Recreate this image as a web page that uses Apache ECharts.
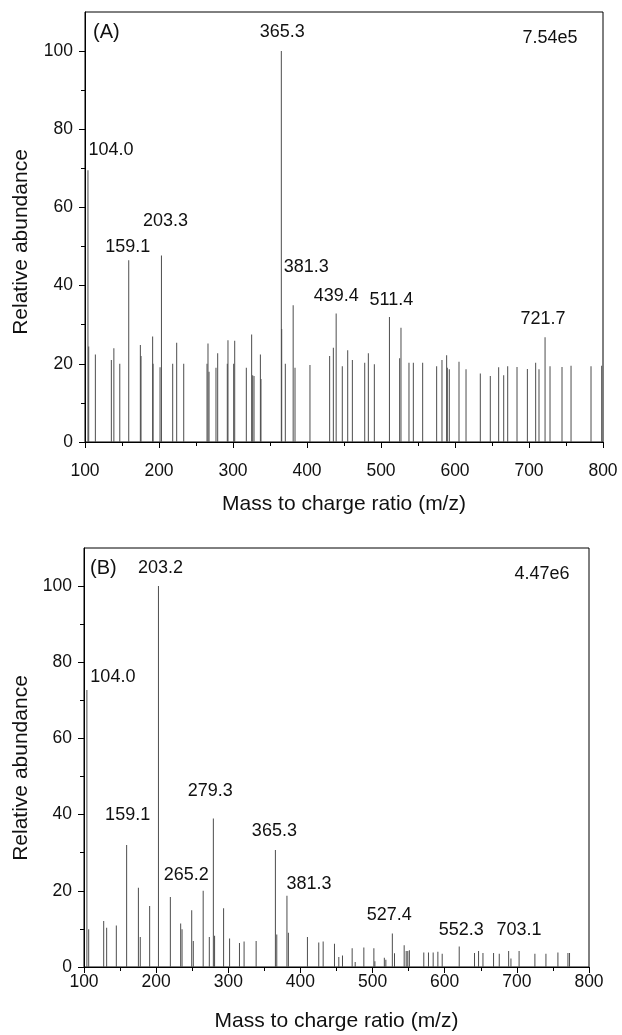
<!DOCTYPE html>
<html><head><meta charset="utf-8">
<script src="https://cdn.jsdelivr.net/npm/echarts@6/dist/echarts.min.js"></script>
<style>html,body{margin:0;padding:0;background:#fff}#c{width:622px;height:1035px}</style>
</head><body><div id="c"></div>
<script>
// ---------- DATA ----------
const xTicks = [100, 200, 300, 400, 500, 600, 700, 800];
const yTicks = [0, 20, 40, 60, 80, 100];

// Panel A (total ion abundance 7.54e5)
const mzA = [104.0,105.0,114.0,135.6,139.0,147.0,159.1,174.8,175.7,191.4,192.0,201.4,203.3,218.5,223.9,233.4,
  264.9,266.2,267.6,277.0,279.3,292.3,293.2,300.9,302.3,318.0,325.2,326.6,328.4,337.0,337.8,
  365.3,365.8,370.7,381.3,383.8,404.0,430.6,435.6,439.4,447.7,455.0,461.3,478.0,482.9,491.0,
  511.4,525.2,527.0,537.8,543.7,556.3,575.2,582.4,588.7,589.6,592.3,605.4,614.9,634.2,647.7,
  659.0,665.8,671.2,683.8,697.8,709.0,713.5,721.7,728.4,744.6,756.8,783.8,798.2];
const intA = [69.5,24.4,22.4,21.0,24.0,20.0,46.5,24.8,22.0,27.0,20.0,19.1,47.7,20.0,25.4,20.0,
  20.0,25.2,18.0,19.0,22.7,20.0,26.0,20.0,25.9,19.0,27.5,17.1,16.9,22.4,16.1,
  100,28.9,20.0,35.0,19.0,19.7,22.0,24.1,32.9,19.4,23.5,21.0,20.3,22.7,19.9,
  32.0,21.4,29.2,20.3,20.3,20.3,19.4,21.0,22.2,19.0,18.6,20.5,18.6,17.5,16.9,
  19.1,17.1,19.4,19.2,18.7,20.3,18.6,26.8,19.4,19.2,19.5,19.4,19.5];
const labelTextA = ['104.0','159.1','203.3','365.3','381.3','439.4','511.4','721.7'];
const labelPeakA = [104.0,159.1,203.3,365.3,381.3,439.4,511.4,721.7];

// Panel B (total ion abundance 4.47e6)
const mzB = [104.0,106.5,127.3,131.4,144.8,159.1,175.4,178.0,191.0,203.2,219.7,234.0,235.9,249.3,251.5,
  265.2,273.7,279.3,281.0,293.5,301.8,315.5,321.9,338.6,365.3,367.2,381.3,383.3,409.7,425.4,431.5,
  447.2,453.2,458.3,471.7,475.9,487.9,501.8,503.2,516.3,518.4,527.4,530.4,543.8,546.6,548.8,551.0,
  571.0,577.5,584.0,590.5,596.5,620.1,641.3,646.9,653.0,667.7,675.6,688.6,691.8,703.1,725.0,740.3,
  756.9,770.8,773.0];
const intB = [72.7,9.9,12.1,10.3,10.9,32.0,20.8,7.9,16.0,100,18.4,11.4,9.9,14.9,6.8,
  20.0,7.9,39.0,8.2,15.4,7.5,6.3,6.7,6.8,30.7,8.5,18.7,9.0,7.9,6.4,6.7,
  6.1,2.6,3.0,4.9,1.3,5.1,4.9,1.5,2.4,1.9,8.8,3.6,5.7,4.2,4.2,4.4,
  3.8,3.8,3.8,4.0,3.5,5.4,3.7,4.2,3.7,3.7,3.5,4.2,2.2,4.2,3.5,3.5,
  3.8,3.7,3.7];
const labelTextB = ['104.0','159.1','203.2','265.2','279.3','365.3','381.3','527.4','552.3','703.1'];
const labelPeakB = [104.0,159.1,203.2,265.2,279.3,365.3,381.3,527.4,620.1,703.1];

// ---------- LAYOUT / STYLE ----------
const FONT = '"Liberation Sans", Arial, Helvetica, sans-serif';
const TXT = '#111';
const PEAK = '#4d4d4d';
const offA = {'104.0':[23,-20],'159.1':[-1,-13],'203.3':[4,-35],'365.3':[1,-19],'381.3':[13,-38],
  '439.4':[0,-17],'511.4':[2,-17],'721.7':[-2,-18]};
const offB = {'104.0':[26,-13],'159.1':[1,-30],'203.2':[2,-18],'265.2':[-17,-16],'279.3':[-3,-27],
  '365.3':[-1,-19],'381.3':[22,-12],'527.4':[-3,-18],'552.3':[2,-16],'703.1':[0,-21]};

const grids = [
  {left: 85, top: 12, width: 518, height: 430},
  {left: 84, top: 548, width: 505, height: 419}
];

function xAxis(gi, margin, gap) {
  return {
    type: 'value', gridIndex: gi, min: 100, max: 800, interval: 100,
    name: 'Mass to charge ratio (m/z)', nameLocation: 'middle', nameGap: gap,
    nameTextStyle: {fontFamily: FONT, fontSize: 21, color: TXT},
    axisLine: {show: true, onZero: false, lineStyle: {color: '#000', width: 1}},
    axisTick: {show: true, inside: false, length: 6, lineStyle: {color: '#000'}},
    minorTick: {show: true, splitNumber: 2, length: 4, lineStyle: {color: '#000'}},
    axisLabel: {fontFamily: FONT, fontSize: 17.5, color: TXT, margin: margin,
      customValues: xTicks},
    splitLine: {show: false}, minorSplitLine: {show: false}
  };
}
function yAxes(gi) {
  return [{
    type: 'value', gridIndex: gi, min: 0, max: 110, interval: 20, position: 'left',
    axisLine: {show: true, onZero: false, lineStyle: {color: '#000', width: 1}},
    axisTick: {show: true, inside: false, length: 6, lineStyle: {color: '#000'}, customValues: yTicks},
    axisLabel: {fontFamily: FONT, fontSize: 17.5, color: TXT, margin: 12, customValues: yTicks},
    splitLine: {show: false}
  }, {
    type: 'value', gridIndex: gi, min: 0, max: 110, interval: 20, position: 'left',
    axisLine: {show: false},
    axisTick: {show: true, inside: false, length: 4, lineStyle: {color: '#000'},
      customValues: yTicks.slice(0, -1).map(v => v + 10)},
    axisLabel: {show: false},
    splitLine: {show: false}
  }];
}
function peaks(mz, it, gi) {
  return {
    type: 'bar', xAxisIndex: gi, yAxisIndex: gi * 2, barWidth: 1, silent: true,
    itemStyle: {color: PEAK}, data: mz.map((m, i) => [m, it[i]])
  };
}
function labels(mz, it, txt, anchors, off, gi) {
  return {
    type: 'scatter', xAxisIndex: gi, yAxisIndex: gi * 2, symbolSize: 0, silent: true, z: 5,
    itemStyle: {opacity: 1, color: TXT},
    data: txt.map((t, k) => {
      const idx = mz.indexOf(anchors[k]);
      return {name: t, value: [anchors[k], it[idx]],
        label: {offset: off[t]}};
    }),
    label: {show: true, position: 'inside', formatter: p => p.name,
      fontFamily: FONT, fontSize: 18, color: TXT, textBorderWidth: 0, opacity: 1,
      align: 'center', verticalAlign: 'middle'}
  };
}

const chart = echarts.init(document.getElementById('c'), null, {renderer: 'canvas'});
chart.setOption({
  animation: false,
  backgroundColor: '#fff',
  grid: grids.map(g => Object.assign({show: true, borderColor: '#000', borderWidth: 1,
    backgroundColor: 'transparent', containLabel: false}, g)),
  xAxis: [xAxis(0, 20, 52), xAxis(1, 6, 44)],
  yAxis: yAxes(0).concat(yAxes(1)),
  series: [
    peaks(mzA, intA, 0), peaks(mzB, intB, 1),
    labels(mzA, intA, labelTextA, labelPeakA, offA, 0),
    labels(mzB, intB, labelTextB, labelPeakB, offB, 1)
  ],
  graphic: [
    {type: 'text', x: 21, y: 242, rotation: Math.PI / 2,
      style: {text: 'Relative abundance', font: '21px ' + FONT, fill: TXT, textAlign: 'center', textVerticalAlign: 'middle'}},
    {type: 'text', x: 21, y: 768, rotation: Math.PI / 2,
      style: {text: 'Relative abundance', font: '21px ' + FONT, fill: TXT, textAlign: 'center', textVerticalAlign: 'middle'}},
    {type: 'text', x: 93, y: 32, style: {text: '(A)', font: '20px ' + FONT, fill: TXT, textAlign: 'left', textVerticalAlign: 'middle'}},
    {type: 'text', x: 550, y: 38, style: {text: '7.54e5', font: '18px ' + FONT, fill: TXT, textAlign: 'center', textVerticalAlign: 'middle'}},
    {type: 'text', x: 90, y: 568, style: {text: '(B)', font: '20px ' + FONT, fill: TXT, textAlign: 'left', textVerticalAlign: 'middle'}},
    {type: 'text', x: 542, y: 574, style: {text: '4.47e6', font: '18px ' + FONT, fill: TXT, textAlign: 'center', textVerticalAlign: 'middle'}}
  ]
});
</script></body></html>
